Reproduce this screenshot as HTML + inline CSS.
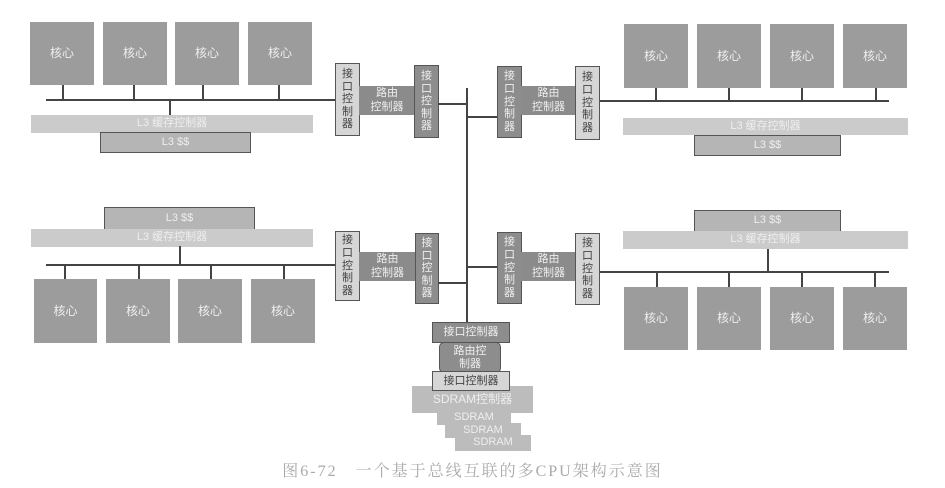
<!DOCTYPE html>
<html><head><meta charset="utf-8"><style>
body{margin:0;width:945px;height:488px;background:#fff;position:relative;overflow:hidden;font-family:"Liberation Sans","Noto Sans CJK SC",sans-serif;}
.a{position:absolute;box-sizing:border-box;display:flex;align-items:center;justify-content:center;text-align:center;color:#eee;font-size:11px;line-height:1.2;}
.core{background:#9c9c9c;font-size:12px;}
.ctl{background:#cbcbcb;font-size:11px;}
.l3{background:#b5b5b5;border:1.5px solid #555;}
.li{background:#d6d6d6;border:1.5px solid #555;color:#444;padding:0 5px;font-size:11px;line-height:1.15;}
.di{background:#8d8d8d;border:1.5px solid #555;padding:0 5px;font-size:11px;line-height:1.15;}
.rt{background:#8b8b8b;font-size:11px;}
.h{position:absolute;height:2px;background:#444;}
.v{position:absolute;width:2px;background:#444;}
.sd{background:#bcbcbc;}
</style></head><body>
<div class="a core" style="left:30px;top:22px;width:64px;height:63px">核心</div>
<div class="a core" style="left:103px;top:22px;width:64px;height:63px">核心</div>
<div class="a core" style="left:175px;top:22px;width:64px;height:63px">核心</div>
<div class="a core" style="left:248px;top:22px;width:64px;height:63px">核心</div>
<div class="v" style="left:62px;top:85px;height:15px"></div>
<div class="v" style="left:133px;top:85px;height:15px"></div>
<div class="v" style="left:202px;top:85px;height:15px"></div>
<div class="v" style="left:278px;top:85px;height:15px"></div>
<div class="h" style="left:46px;top:99px;width:290px"></div>
<div class="v" style="left:169px;top:100px;height:15px"></div>
<div class="a ctl" style="left:31px;top:115px;width:282px;height:18px">L3 缓存控制器</div>
<div class="a l3" style="left:100px;top:132px;width:151px;height:21px">L3 $$</div>
<div class="a li" style="left:335px;top:63px;width:25px;height:73px">接口控制器</div>
<div class="a rt" style="left:359px;top:86px;width:56px;height:29px">路由<br>控制器</div>
<div class="a di" style="left:414px;top:65px;width:25px;height:73px">接口控制器</div>
<div class="h" style="left:438px;top:103px;width:30px"></div>
<div class="v" style="left:466px;top:88px;height:235px"></div>
<div class="a core" style="left:624px;top:24px;width:64px;height:64px">核心</div>
<div class="a core" style="left:697px;top:24px;width:64px;height:64px">核心</div>
<div class="a core" style="left:770px;top:24px;width:64px;height:64px">核心</div>
<div class="a core" style="left:843px;top:24px;width:64px;height:64px">核心</div>
<div class="v" style="left:655px;top:88px;height:12px"></div>
<div class="v" style="left:728px;top:88px;height:12px"></div>
<div class="v" style="left:801px;top:88px;height:12px"></div>
<div class="v" style="left:875px;top:88px;height:12px"></div>
<div class="h" style="left:599px;top:100px;width:290px"></div>
<div class="a ctl" style="left:623px;top:118px;width:285px;height:17px">L3 缓存控制器</div>
<div class="a l3" style="left:694px;top:135px;width:147px;height:21px">L3 $$</div>
<div class="a di" style="left:497px;top:66px;width:25px;height:72px">接口控制器</div>
<div class="a rt" style="left:521px;top:86px;width:55px;height:29px">路由<br>控制器</div>
<div class="a li" style="left:575px;top:66px;width:25px;height:74px">接口控制器</div>
<div class="h" style="left:467px;top:116px;width:30px"></div>
<div class="a l3" style="left:104px;top:207px;width:151px;height:23px">L3 $$</div>
<div class="a ctl" style="left:31px;top:229px;width:282px;height:18px">L3 缓存控制器</div>
<div class="v" style="left:179px;top:246px;height:19px"></div>
<div class="h" style="left:46px;top:264px;width:290px"></div>
<div class="v" style="left:64px;top:265px;height:14px"></div>
<div class="v" style="left:138px;top:265px;height:14px"></div>
<div class="v" style="left:210px;top:265px;height:14px"></div>
<div class="v" style="left:283px;top:265px;height:14px"></div>
<div class="a core" style="left:34px;top:279px;width:63px;height:64px">核心</div>
<div class="a core" style="left:106px;top:279px;width:64px;height:64px">核心</div>
<div class="a core" style="left:178px;top:279px;width:64px;height:64px">核心</div>
<div class="a core" style="left:251px;top:279px;width:64px;height:64px">核心</div>
<div class="a li" style="left:335px;top:231px;width:25px;height:70px">接口控制器</div>
<div class="a rt" style="left:359px;top:252px;width:57px;height:29px">路由<br>控制器</div>
<div class="a di" style="left:415px;top:233px;width:24px;height:71px">接口控制器</div>
<div class="h" style="left:438px;top:282px;width:30px"></div>
<div class="a l3" style="left:694px;top:210px;width:147px;height:22px">L3 $$</div>
<div class="a ctl" style="left:623px;top:231px;width:285px;height:18px">L3 缓存控制器</div>
<div class="v" style="left:767px;top:249px;height:22px"></div>
<div class="h" style="left:599px;top:271px;width:290px"></div>
<div class="v" style="left:656px;top:272px;height:15px"></div>
<div class="v" style="left:728px;top:272px;height:15px"></div>
<div class="v" style="left:801px;top:272px;height:15px"></div>
<div class="v" style="left:874px;top:272px;height:15px"></div>
<div class="a core" style="left:624px;top:287px;width:64px;height:63px">核心</div>
<div class="a core" style="left:697px;top:287px;width:64px;height:63px">核心</div>
<div class="a core" style="left:770px;top:287px;width:64px;height:63px">核心</div>
<div class="a core" style="left:843px;top:287px;width:64px;height:63px">核心</div>
<div class="a di" style="left:497px;top:232px;width:25px;height:72px">接口控制器</div>
<div class="a rt" style="left:521px;top:252px;width:55px;height:29px">路由<br>控制器</div>
<div class="a li" style="left:575px;top:233px;width:25px;height:72px">接口控制器</div>
<div class="h" style="left:467px;top:266px;width:30px"></div>
<div class="a sd" style="left:412px;top:386px;width:121px;height:27px;font-size:12px">SDRAM控制器</div>
<div class="a sd" style="left:437px;top:410px;width:74px;height:15px">SDRAM</div>
<div class="a sd" style="left:445px;top:423px;width:76px;height:15px">SDRAM</div>
<div class="a sd" style="left:455px;top:435px;width:76px;height:16px">SDRAM</div>
<div class="a di" style="left:432px;top:322px;width:78px;height:21px">接口控制器</div>
<div class="a di" style="left:439px;top:342px;width:62px;height:31px;border-radius:5px">路由控<br>制器</div>
<div class="a li" style="left:432px;top:371px;width:78px;height:20px">接口控制器</div>
<div style="position:absolute;left:0;width:945px;top:458px;text-align:center;font-family:'Liberation Serif','Noto Serif CJK SC',serif;font-size:16px;letter-spacing:2px;color:#aaa;">图6-72　一个基于总线互联的多CPU架构示意图</div>
</body></html>
